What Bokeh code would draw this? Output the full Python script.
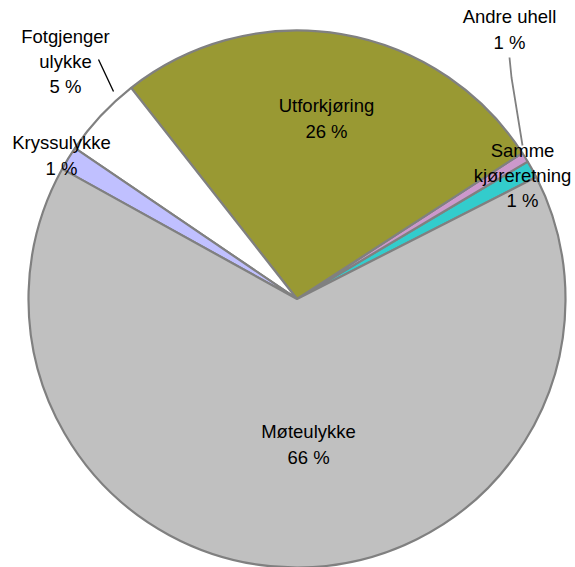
import math
from bokeh.plotting import figure
from bokeh.models import Range1d, ColumnDataSource
from bokeh.core.properties import value
from bokeh.embed import file_html
from bokeh.resources import INLINE

# ---- data ----
categories = ["Samme\nkjøreretning", "Andre uhell", "Utforkjøring",
              "Fotgjenger\nulykke", "Kryssulykke", "Møteulykke"]
shares = [1.05, 0.6, 26.45, 4.9, 1.45, 65.55]
colors = ["#33CCCC", "#CC99CC", "#999933", "#FFFFFF", "#C0C0FF", "#C0C0C0"]

# ---- layout (screen pixel coordinates) ----
cx, cy, R = 296.5, 298.5, 268.5
start_deg = 27.0
label_pos = [(522, 175), (509, 29), (326, 118), (65, 61), (61, 155), (308, 444)]

W, H = 575, 567
p = figure(width=W, height=H, output_backend="svg", toolbar_location=None,
           x_range=Range1d(0, W), y_range=Range1d(-H, 0),
           x_axis_type=None, y_axis_type=None, min_border=0,
           outline_line_color=None)
p.grid.visible = False
p.background_fill_color = "white"
p.border_fill_color = "white"

total = sum(shares)
starts, ends = [], []
a = math.radians(start_deg)
for s in shares:
    starts.append(a)
    a += s / total * 2 * math.pi
    ends.append(a)

src = ColumnDataSource(dict(start=starts, end=ends, color=colors))
p.wedge(x=cx, y=-cy, radius=R, start_angle="start", end_angle="end",
        fill_color="color", line_color="#808080", line_width=2.2, source=src)

# leader lines
p.line([98, 113], [-59, -91], line_color="black", line_width=1.3)
p.line([509, 511, 522], [-57, -77, -145], line_color="#808080", line_width=1.8)

texts = [f"{c}\n{math.floor(s / total * 100 + 0.5)} %" for c, s in zip(categories, shares)]
lsrc = ColumnDataSource(dict(x=[q[0] for q in label_pos], y=[-q[1] for q in label_pos], t=texts))
p.text(x="x", y="y", text="t", source=lsrc, text_align="center", text_baseline="middle",
       text_font=value("Liberation Sans"), text_font_size="18.5px", text_color="black",
       text_line_height=1.2)

open("out.html", "w").write(file_html(p, INLINE))
